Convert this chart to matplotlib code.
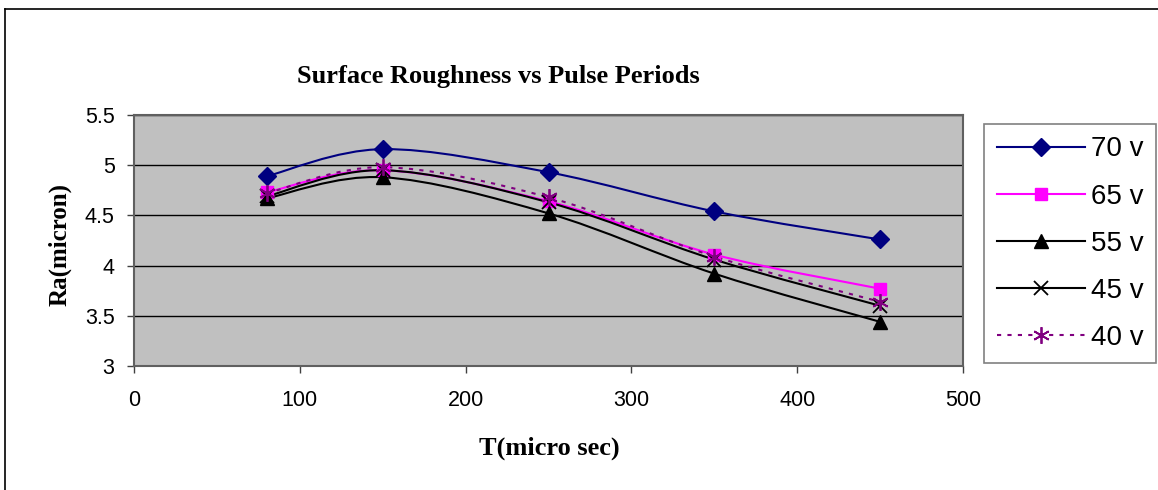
import matplotlib.pyplot as plt
import numpy as np
from matplotlib.path import Path
from matplotlib.patches import PathPatch
from matplotlib.lines import Line2D

periods = [80, 150, 250, 350, 450]
ra_70 = [4.89, 5.16, 4.93, 4.54, 4.26]
ra_65 = [4.73, 4.95, 4.64, 4.11, 3.77]
ra_55 = [4.67, 4.88, 4.52, 3.92, 3.44]
ra_45 = [4.69, 4.95, 4.63, 4.06, 3.60]
ra_40 = [4.72, 4.98, 4.68, 4.09, 3.64]
labels = ["70 v", "65 v", "55 v", "45 v", "40 v"]

styles = [
    dict(color="#000080", marker="D", ms=9, ls="-", mfc="#000080", mec="#000080"),
    dict(color="#FF00FF", marker="s", ms=9, ls="-", mfc="#FF00FF", mec="#FF00FF"),
    dict(color="black", marker="^", ms=10, ls="-", mfc="black", mec="black"),
    dict(color="black", marker="x", ms=10, ls="-", mfc="black", mec="black", mew=1.3),
    dict(color="#800080", marker=(6, 2, 0), ms=12, ls=(0, (2, 3)), mfc="#800080",
         mec="#800080", mew=1.3),
]


def smooth_path(x, y):
    # Excel-like smoothed line: Catmull-Rom as cubic Bezier segments
    x = np.asarray(x, float)
    y = np.asarray(y, float)
    n = len(x)
    verts = [(x[0], y[0])]
    codes = [Path.MOVETO]
    for i in range(n - 1):
        p0 = (x[max(i - 1, 0)], y[max(i - 1, 0)])
        p1 = (x[i], y[i])
        p2 = (x[i + 1], y[i + 1])
        p3 = (x[min(i + 2, n - 1)], y[min(i + 2, n - 1)])
        c1 = (p1[0] + (p2[0] - p0[0]) / 6, p1[1] + (p2[1] - p0[1]) / 6)
        c2 = (p2[0] - (p3[0] - p1[0]) / 6, p2[1] - (p3[1] - p1[1]) / 6)
        verts += [c1, c2, p2]
        codes += [Path.CURVE4] * 3
    return Path(verts, codes)


fig = plt.figure(figsize=(11.58, 4.9), dpi=100)
ax = fig.add_axes([134 / 1158, 1 - 366 / 490, (963 - 134) / 1158, (366 - 115) / 490])
ax.set_facecolor("#C0C0C0")

series = [ra_70, ra_65, ra_55, ra_45, ra_40]
handles = []
for vals, st, lab in zip(series, styles, labels):
    patch = PathPatch(smooth_path(periods, vals), fill=False, edgecolor=st["color"],
                      lw=1.5, linestyle=st["ls"], zorder=3)
    ax.add_patch(patch)
    ax.plot(periods, vals, ls="none", marker=st["marker"], ms=st["ms"],
            mfc=st["mfc"], mec=st["mec"], mew=st.get("mew", 1), zorder=4)
    handles.append(Line2D([], [], color=st["color"], ls=st["ls"], lw=1.5,
                          marker=st["marker"], ms=st["ms"], mfc=st["mfc"],
                          mec=st["mec"], mew=st.get("mew", 1)))

ax.set_xlim(0, 500)
ax.set_ylim(3, 5.5)
ax.set_xticks([0, 100, 200, 300, 400, 500])
ax.set_yticks([3, 3.5, 4, 4.5, 5, 5.5])
ax.set_yticklabels(["3", "3.5", "4", "4.5", "5", "5.5"])
ax.grid(axis="y", color="black", lw=1)
ax.set_axisbelow(True)
for s in ax.spines.values():
    s.set_color("#606060")
    s.set_linewidth(1.5)
ax.tick_params(labelsize=15.5, length=5, color="#404040", width=1)
ax.tick_params(axis="x", pad=12)
ax.tick_params(axis="y", pad=9)
for t in ax.get_xticklabels() + ax.get_yticklabels():
    t.set_fontfamily("Liberation Sans")

fig.text(498 / 1158, 1 - 76 / 490, "Surface Roughness vs Pulse Periods",
         ha="center", va="center", fontsize=19, fontweight="bold",
         family="Liberation Serif")
fig.text(549 / 1158, 1 - 448 / 490, "T(micro sec)", ha="center", va="center",
         fontsize=19, fontweight="bold", family="Liberation Serif")
fig.text(60 / 1158, 1 - 244 / 490, "Ra(micron)", ha="center", va="center",
         rotation=90, fontsize=18, fontweight="bold", family="Liberation Serif")

leg = fig.legend(handles, labels, loc="upper left",
                 bbox_to_anchor=(984 / 1158, 1 - 124 / 490), borderaxespad=0,
                 prop={"family": "Liberation Sans", "size": 20},
                 frameon=True, fancybox=False, edgecolor="#606060",
                 handlelength=3.2, labelspacing=0.76, borderpad=0.45,
                 handletextpad=0.2)
leg.get_frame().set_linewidth(1.2)

# outer chart border (left and top)
fig.add_artist(Line2D([5 / 1158, 5 / 1158], [0, 1 - 9 / 490], color="black",
                      lw=1.2, transform=fig.transFigure))
fig.add_artist(Line2D([5 / 1158, 1], [1 - 9 / 490, 1 - 9 / 490], color="black",
                      lw=1.2, transform=fig.transFigure))

fig.savefig("out.png", dpi=100)
